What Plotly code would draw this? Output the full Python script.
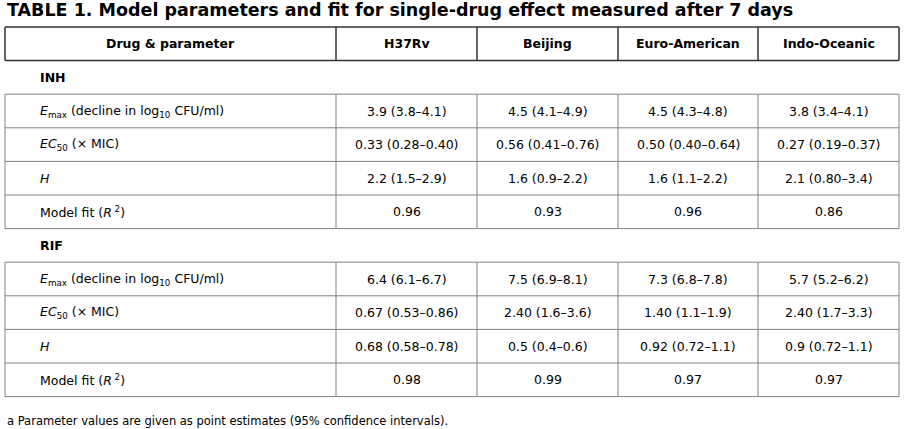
import plotly.graph_objects as go

# Table content

title = "TABLE 1. Model parameters and fit for single-drug effect measured after 7 days"
footnote = "a Parameter values are given as point estimates (95% confidence intervals)."

strains = ["H37Rv", "Beijing", "Euro-American", "Indo-Oceanic"]
params = ["<i>E</i><sub>max</sub> (decline in log<sub>10</sub> CFU/ml)",
          "<i>EC</i><sub>50</sub> (× MIC)",
          "<i>H</i>",
          "Model fit (<i>R</i><sup> 2</sup>)"]

drugs = ["INH", "RIF"]

inh_h37rv = ["3.9 (3.8–4.1)", "0.33 (0.28–0.40)", "2.2 (1.5–2.9)", "0.96"]
inh_beijing = ["4.5 (4.1–4.9)", "0.56 (0.41–0.76)", "1.6 (0.9–2.2)", "0.93"]
inh_euro = ["4.5 (4.3–4.8)", "0.50 (0.40–0.64)", "1.6 (1.1–2.2)", "0.96"]
inh_indo = ["3.8 (3.4–4.1)", "0.27 (0.19–0.37)", "2.1 (0.80–3.4)", "0.86"]

rif_h37rv = ["6.4 (6.1–6.7)", "0.67 (0.53–0.86)", "0.68 (0.58–0.78)", "0.98"]
rif_beijing = ["7.5 (6.9–8.1)", "2.40 (1.6–3.6)", "0.5 (0.4–0.6)", "0.99"]
rif_euro = ["7.3 (6.8–7.8)", "1.40 (1.1–1.9)", "0.92 (0.72–1.1)", "0.97"]
rif_indo = ["5.7 (5.2–6.2)", "2.40 (1.7–3.3)", "0.9 (0.72–1.1)", "0.97"]

values = {
    "INH": [inh_h37rv, inh_beijing, inh_euro, inh_indo],
    "RIF": [rif_h37rv, rif_beijing, rif_euro, rif_indo],
}

# Geometry (pixels, axes run 0..905 and 0..429)
col_edges = [5, 336, 477, 618, 758, 899]
top = 27
row_h = 33.6
font = "DejaVu Sans"
dark = "#333333"
grey = "#808080"

fig = go.Figure()
shapes = []
annotations = []


def hline(y, color, width):
    shapes.append(dict(type="line", x0=col_edges[0], x1=col_edges[-1], y0=y, y1=y,
                       line=dict(color=color, width=width)))


def vlines(y0, y1, color, width):
    for x in col_edges:
        shapes.append(dict(type="line", x0=x, x1=x, y0=y0, y1=y1,
                           line=dict(color=color, width=width)))


def text(x, y, s, anchor="center", size=12.5, bold=False):
    if bold:
        s = "<b>" + s + "</b>"
    annotations.append(dict(x=x, y=y, text=s, showarrow=False, xanchor=anchor,
                            yanchor="middle", font=dict(family=font, size=size, color="black")))


# header row
y = top
vlines(y, y + row_h, dark, 1.5)
hline(y, dark, 1.5)
hline(y + row_h, dark, 1.5)
text((col_edges[0] + col_edges[1]) / 2, y + row_h / 2, "Drug & parameter", bold=True)
for i, s in enumerate(strains):
    text((col_edges[i + 1] + col_edges[i + 2]) / 2, y + row_h / 2, s, bold=True)
y += row_h

for drug in drugs:
    # section label row, no borders
    text(38, y + row_h / 2, drug, anchor="left", bold=True)
    y += row_h
    block_top = y
    for r, p in enumerate(params):
        hline(y, grey, 1)
        text(38, y + row_h / 2, p, anchor="left")
        for c in range(len(strains)):
            text((col_edges[c + 1] + col_edges[c + 2]) / 2, y + row_h / 2, values[drug][c][r])
        y += row_h
    hline(y, grey, 1)
    vlines(block_top, y, grey, 1)

annotations.append(dict(x=5, y=10, text="<b>" + title + "</b>", showarrow=False,
                        xanchor="left", yanchor="middle",
                        font=dict(family=font, size=17.5, color="black")))
annotations.append(dict(x=5, y=421, text=footnote, showarrow=False,
                        xanchor="left", yanchor="middle",
                        font=dict(family=font, size=11.5, color="black")))

fig.update_layout(
    width=905, height=429,
    margin=dict(l=0, r=0, t=0, b=0),
    paper_bgcolor="white", plot_bgcolor="white",
    shapes=shapes, annotations=annotations,
    showlegend=False,
)
fig.update_xaxes(range=[0, 905], visible=False, fixedrange=True)
fig.update_yaxes(range=[429, 0], visible=False, fixedrange=True)

fig.write_html("out.html", config={"displayModeBar": False},
               post_script="document.body.style.margin='0';")
